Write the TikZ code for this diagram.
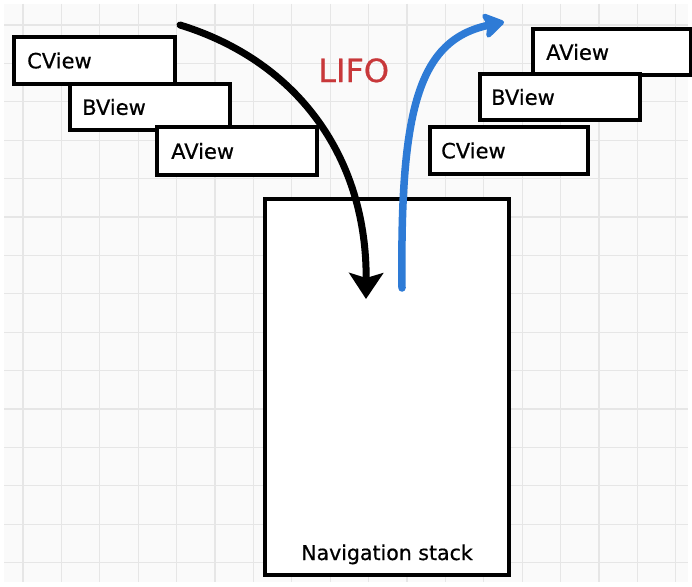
\documentclass[tikz,border=0pt]{standalone}
\usepackage{fontspec}
\setmainfont{DejaVu Sans}
\newfontfamily\viewfont{DejaVu Sans}[FakeBold=0.6]
\usetikzlibrary{arrows.meta}
\definecolor{gridc}{HTML}{E6E6E6}
\definecolor{bgc}{HTML}{FAFAFA}
\definecolor{lifored}{HTML}{C8383A}
\definecolor{pushblue}{HTML}{2E7BD6}
\begin{document}
\begin{tikzpicture}[x=1pt,y=-1pt,
  viewbox/.style={draw=black, line width=4pt, fill=white, anchor=north west,
    minimum width=160pt, minimum height=46pt, inner sep=0pt},
  viewlabel/.style={anchor=west, font=\viewfont\fontsize{21}{24}\selectfont, inner sep=0pt},
  gridline/.style={gridc, line width=1.1pt}
]
\useasboundingbox (0,0) rectangle (692,586);
\fill[white] (0,0) rectangle (692,586);
\fill[bgc] (4,4) rectangle (688,582);
\foreach \k in {0,...,17} \draw[gridline] ({23+38.4*\k},4) -- ({23+38.4*\k},582);
\foreach \k in {0,...,14} \draw[gridline] (4,{25+38.4*\k}) -- (688,{25+38.4*\k});

% left stack of views
\node[viewbox, minimum width=161pt, minimum height=47pt] (lc) at (12,35) {};
\node[viewlabel] (lcl) at ([xshift=15pt]lc.west) {CView};
\node[viewbox, minimum width=160pt, minimum height=46pt] (lb) at (68,82) {};
\node[viewlabel] (lbl) at ([xshift=14pt]lb.west) {BView};
\node[viewbox, minimum width=160pt, minimum height=48pt] (la) at (155,125) {};
\node[viewlabel] (lal) at ([xshift=16pt]la.west) {AView};

% right stack of views
\node[viewbox, minimum width=158pt, minimum height=46pt] (ra) at (531,27) {};
\node[viewlabel] (ral) at ([xshift=15pt]ra.west) {AView};
\node[viewbox, minimum width=160pt, minimum height=46pt] (rb) at (478,72) {};
\node[viewlabel] (rbl) at ([xshift=13pt]rb.west) {BView};
\node[viewbox, minimum width=158pt, minimum height=47pt] (rc) at (428,125) {};
\node[viewlabel] (rcl) at ([xshift=13pt]rc.west) {CView};

% navigation stack
\node[draw=black, line width=4pt, fill=white, anchor=north west,
  minimum width=244pt, minimum height=376pt, inner sep=0pt] (stack) at (263,197) {};
\node[anchor=base, font=\viewfont\fontsize{20.5}{24}\selectfont, inner sep=0pt] (stackl) at (387,560) {Navigation stack};

% LIFO label
\node[anchor=base west, text=lifored, font=\viewfont\fontsize{32}{36}\selectfont, inner sep=0pt] (lifo) at (318,82) {LIFO};

% push arrow (black)
\coordinate (ks) at (180,25);
\coordinate (ke) at (366,299);
\draw[line width=7pt, line cap=round, -{Stealth[length=26pt,width=34pt,inset=5pt]}]
  (ks) .. controls (300,62) and (367,160) .. (ke);

% pop arrow (blue)
\coordinate (bs) at (402,288);
\coordinate (be) at (504,22);
\draw[pushblue, line width=7.5pt, line cap=round, -{Stealth[length=24pt,width=30pt,inset=5pt,round]}]
  (bs) .. controls (400,110) and (418,40) .. (be);
\end{tikzpicture}
\end{document}
